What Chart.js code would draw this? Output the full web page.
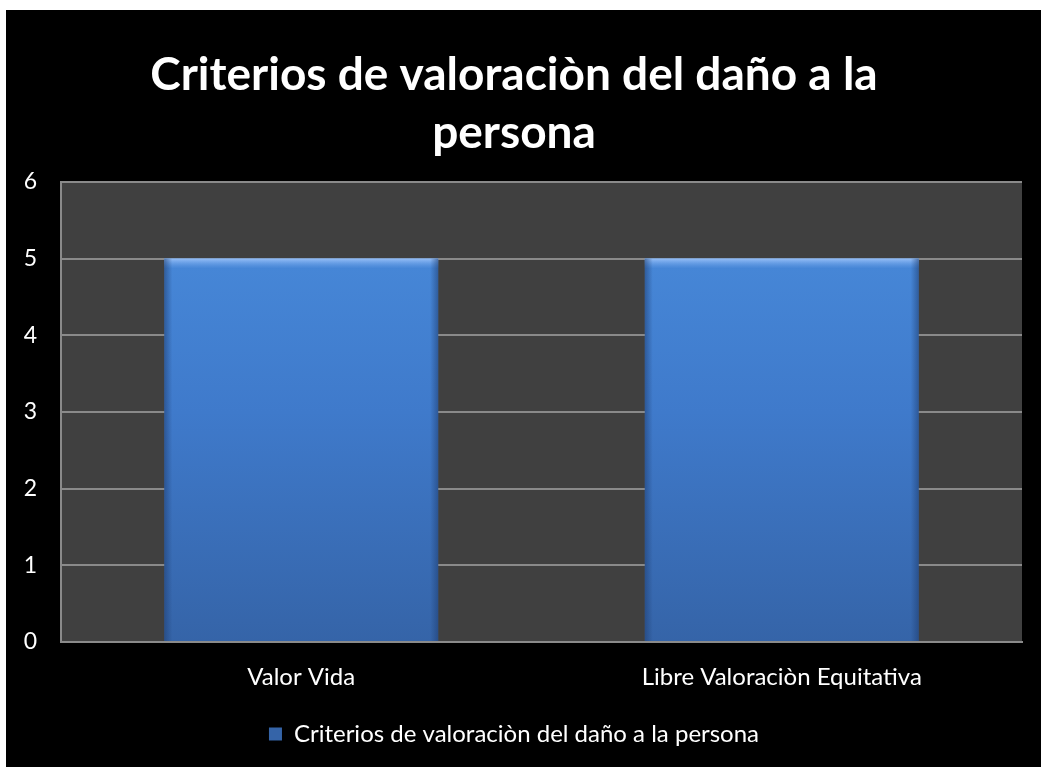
<!DOCTYPE html>
<html>
<head>
<meta charset="utf-8">
<script src="https://cdn.jsdelivr.net/npm/chart.js@4/dist/chart.umd.min.js"></script>
<style>
  html, body { margin: 0; padding: 0; background: #fff; }
  #wrap { position: absolute; left: 6px; top: 10px; width: 1035px; height: 757px; background: #000; }
</style>
</head>
<body>
<div id="wrap"><canvas id="chart"></canvas></div>
<script>
// Criterios de valoración - bar chart
const categories = ['Valor Vida', 'Libre Valoraciòn Equitativa'];
const values = [5, 5];
const seriesName = 'Criterios de valoraciòn del daño a la persona';
const titleLines = ['Criterios de valoraciòn del daño a la', 'persona'];
const yMin = 0, yMax = 6, yStep = 1;

const FONT = 'Lato, Calibri, "Open Sans", sans-serif';

function barGradient(ctx) {
  const area = ctx.chart.chartArea;
  if (!area) return '#4080d0';
  const g = ctx.chart.ctx.createLinearGradient(0, area.top, 0, area.bottom);
  g.addColorStop(0, '#4a8ddd');
  g.addColorStop(0.5, '#3f7acb');
  g.addColorStop(1, '#3564a8');
  return g;
}

// dark plot background + bar bevel
const plotBg = {
  id: 'plotBg',
  beforeDraw(chart) {
    const { ctx, chartArea: a } = chart;
    ctx.save();
    ctx.fillStyle = '#404040';
    ctx.fillRect(a.left, a.top, a.right - a.left, a.bottom - a.top);
    ctx.restore();
  },
  afterDatasetsDraw(chart) {
    const { ctx } = chart;
    chart.getDatasetMeta(0).data.forEach(bar => {
      const l = bar.x - bar.width / 2, r = bar.x + bar.width / 2;
      const t = bar.y, b = bar.base;
      ctx.save();
      let g = ctx.createLinearGradient(0, t, 0, t + 10);
      g.addColorStop(0, 'rgba(170,205,255,0.8)');
      g.addColorStop(1, 'rgba(120,170,240,0)');
      ctx.fillStyle = g;
      ctx.fillRect(l, t, r - l, 10);
      g = ctx.createLinearGradient(l, 0, l + 8, 0);
      g.addColorStop(0, 'rgba(30,60,110,0.55)');
      g.addColorStop(1, 'rgba(30,60,110,0)');
      ctx.fillStyle = g;
      ctx.fillRect(l, t, 8, b - t);
      g = ctx.createLinearGradient(r, 0, r - 8, 0);
      g.addColorStop(0, 'rgba(30,60,110,0.55)');
      g.addColorStop(1, 'rgba(30,60,110,0)');
      ctx.fillStyle = g;
      ctx.fillRect(r - 8, t, 8, b - t);
      ctx.restore();
    });
  }
};

new Chart(document.getElementById('chart'), {
  type: 'bar',
  data: {
    labels: categories,
    datasets: [{
      label: seriesName,
      data: values,
      backgroundColor: barGradient,
      borderWidth: 0,
      categoryPercentage: 0.57,
      barPercentage: 1.0
    }]
  },
  options: {
    responsive: true,
    maintainAspectRatio: false,
    animation: false,
    layout: { padding: { left: 0, right: 19, top: 0, bottom: 11 } },
    plugins: {
      title: {
        display: true,
        text: titleLines,
        color: '#fff',
        font: { family: FONT, size: 46, weight: 'bold', lineHeight: 1.27 },
        padding: { top: 36, bottom: 19 }
      },
      legend: {
        position: 'bottom',
        labels: {
          color: '#fff',
          font: { family: FONT, size: 24 },
          boxWidth: 13,
          boxHeight: 13,
          padding: 10
        }
      },
      tooltip: { enabled: false }
    },
    scales: {
      x: {
        grid: { display: false, drawTicks: false },
        border: { display: true, color: '#8a8a8a', width: 2 },
        ticks: { color: '#fff', font: { family: FONT, size: 24 }, padding: 21 },
        afterFit(scale) { scale.height = 70; }
      },
      y: {
        min: yMin, max: yMax,
        grid: { color: '#8a8a8a', lineWidth: 2, drawTicks: false },
        border: { display: true, color: '#8a8a8a', width: 2 },
        ticks: { stepSize: yStep, color: '#fff', font: { family: FONT, size: 23 }, padding: 24 },
        afterFit(scale) { scale.width = 55; }
      }
    }
  },
  plugins: [plotBg]
});
</script>
</body>
</html>
